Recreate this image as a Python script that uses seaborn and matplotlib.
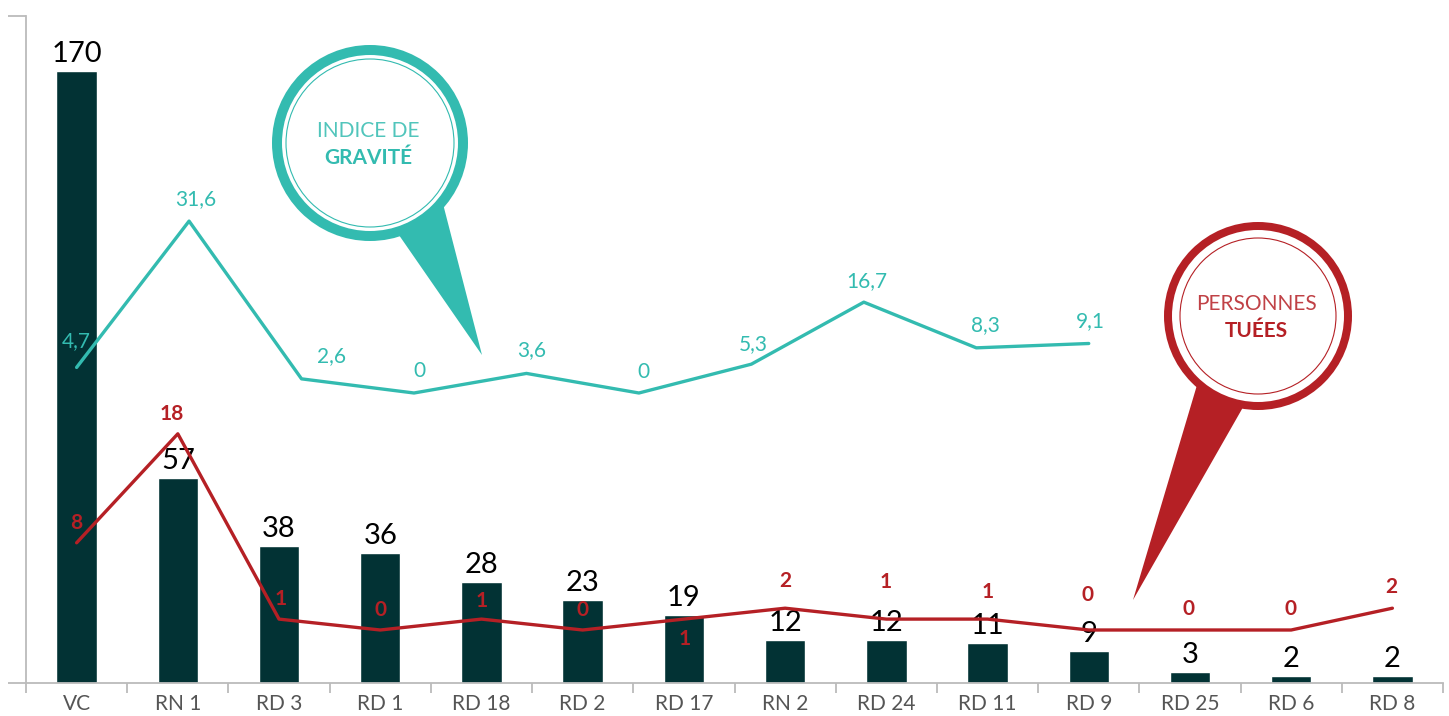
import numpy as np
import pandas as pd
import seaborn as sns
import matplotlib.pyplot as plt
from matplotlib.patches import Circle, Polygon

# data
routes = ["VC", "RN 1", "RD 3", "RD 1", "RD 18", "RD 2", "RD 17",
          "RN 2", "RD 24", "RD 11", "RD 9", "RD 25", "RD 6", "RD 8"]
accidents = [170, 57, 38, 36, 28, 23, 19, 12, 12, 11, 9, 3, 2, 2]
tues = [8, 18, 1, 0, 1, 0, 1, 2, 1, 1, 0, 0, 0, 2]
gravite = [4.7, 31.6, 2.6, 0, 3.6, 0, 5.3, 16.7, 8.3, 9.1]

# label offsets (pixels) for the two line series
tues_dx = [0, -6, 2, 0, 0, 0, 1, 0, -1, 0, -1, -1, -1, -1]
tues_dy = [20, 20, 20, 20, 18, 20, -20, 27, 37, 27, 35, 21, 21, 21]
grav_dx = [0, 7, 30, 5, 5, 5, 2, 3, 9, 2]
grav_dy = [26, 22, 23, 22, 23, 21, 20, 21, 23, 22]

BAR = "#023234"
TEAL = "#33BBB0"
RED = "#B52025"
GREY = "#BBBBBB"

sns.set_style("white")
plt.rcParams["font.family"] = ["Lato", "DejaVu Sans"]

W, H = 1449, 716
fig = plt.figure(figsize=(W / 100, H / 100), dpi=100)
rect = [26 / W, 33 / H, (1443 - 26) / W, (683 - 16) / H]
ax = fig.add_axes(rect)

df = pd.DataFrame({"route": routes, "accidents": accidents})
sns.barplot(data=df, x="route", y="accidents", color=BAR, width=0.4,
            saturation=1, ax=ax, zorder=2)
ax.set_xlim(-0.5, len(routes) - 0.5)
top = (683 - 16) / 3.6
ax.set_ylim(0, top)
ax.set_xlabel("")
ax.set_ylabel("")

for s in ["top", "right"]:
    ax.spines[s].set_visible(False)
for s in ["left", "bottom"]:
    ax.spines[s].set_color(GREY)
    ax.spines[s].set_linewidth(1.3)
ax.set_yticks([0, top])
ax.set_yticklabels([])
ax.tick_params(axis="y", length=13, width=1.3, color=GREY, direction="out", left=True)
ax.set_xticks(np.arange(-0.5, len(routes)), minor=True)
ax.tick_params(axis="x", which="minor", length=7, width=1.3, color=GREY, direction="out", bottom=True)
ax.tick_params(axis="x", which="major", length=0, pad=8, labelsize=15, labelcolor="#555555")

for i, v in enumerate(accidents):
    ax.annotate(str(v), (i, v), xytext=(0, 4), textcoords="offset pixels",
                ha="center", va="bottom", fontsize=21, color="black", zorder=6)

# red line: personnes tuées
ax2 = ax.twinx()
ax2.set_ylim(-53 / 10.9, 614 / 10.9)
ax2.axis("off")
xs = np.arange(len(routes))
sns.lineplot(x=xs, y=tues, color=RED, linewidth=2.4, ax=ax2, zorder=4)
for i, v in enumerate(tues):
    ax2.annotate(str(v), (i, v), xytext=(tues_dx[i], tues_dy[i]), textcoords="offset pixels",
                 ha="center", va="center", fontsize=15, fontweight="bold", color=RED)

# teal line: indice de gravité (its own evenly spaced scale)
ax3 = fig.add_axes(rect, frameon=False)
ax3.set_xlim(-0.45, 12.15)
ax3.set_ylim(-290 / 5.44, 377 / 5.44)
ax3.axis("off")
gx = np.arange(len(gravite))
sns.lineplot(x=gx, y=gravite, color=TEAL, linewidth=2.4, ax=ax3)
for i, v in enumerate(gravite):
    lab = f"{v:g}".replace(".", ",")
    ax3.annotate(lab, (i, v), xytext=(grav_dx[i], grav_dy[i]), textcoords="offset pixels",
                 ha="center", va="center", fontsize=15, color=TEAL)

# speech bubbles (figure pixel space)
ov = fig.add_axes([0, 0, 1, 1], frameon=False)
ov.set_xlim(0, W)
ov.set_ylim(H, 0)
ov.axis("off")


def bubble(cx, cy, r, ring, inner, tail, color, line1, line2):
    ov.add_patch(Polygon(tail, closed=True, color=color, lw=0, zorder=1))
    ov.add_patch(Circle((cx, cy), r - ring / 2, facecolor="white", edgecolor=color,
                        lw=ring * 0.72, zorder=2))
    ov.add_patch(Circle((cx, cy), inner, fill=False, edgecolor=color, lw=0.8, zorder=3))
    ov.text(cx - 2, cy - 12, line1, ha="center", va="center", fontsize=15,
            fontweight="normal", color=color, alpha=0.85, zorder=4)
    ov.text(cx - 2, cy + 15, line2, ha="center", va="center", fontsize=15,
            fontweight="bold", color=color, zorder=4)


bubble(370, 143, 98, 10, 84, [(392, 225), (442, 200), (482, 355)], TEAL,
       "INDICE DE", "GRAVITÉ")
bubble(1258, 316, 94, 8, 78, [(1200, 375), (1250, 395), (1133, 600)], RED,
       "PERSONNES", "TUÉES")

fig.savefig("out.png", dpi=100)
